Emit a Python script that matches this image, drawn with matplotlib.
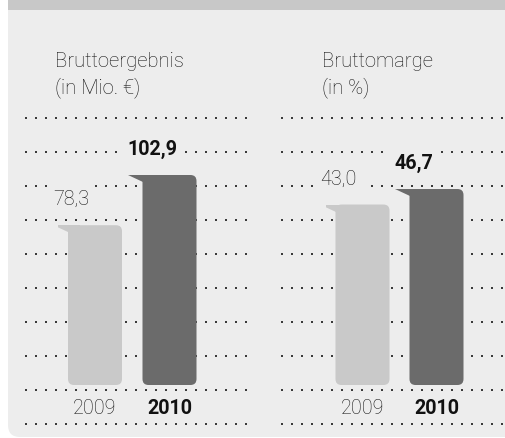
import matplotlib
matplotlib.use("Agg")
import matplotlib.pyplot as plt
from matplotlib.patches import FancyBboxPatch, Polygon, Rectangle

# data
years = ["2009", "2010"]
gross_profit = [78.3, 102.9]      # Mio. EUR
gross_margin = [43.0, 46.7]       # %
titles_left = ["Bruttoergebnis", "(in Mio. €)"]
titles_right = ["Bruttomarge", "(in %)"]

BG = "#ededed"
BAND = "#c8c8c8"
BAR_COLORS = ["#c9c9c9", "#6b6b6b"]
DOT = "#3a3a3a"
TXT = "#151515"
FONT = ["Roboto", "DejaVu Sans"]

W, H = 505, 439
fig = plt.figure(figsize=(W / 100, H / 100), dpi=100)

# background canvas in pixel coordinates (y down)
bg = fig.add_axes([0, 0, 1, 1])
bg.set_xlim(0, W)
bg.set_ylim(H, 0)
bg.axis("off")
bg.add_patch(FancyBboxPatch((8, -40), 540, 478, boxstyle="round,pad=0,rounding_size=12",
                            fc=BG, ec="none"))
bg.add_patch(Rectangle((8, -1), 520, 12, fc=BAND, ec="none"))

# dotted guide rows
rows = [119 + 34 * k for k in range(10)]
for x_start in (26, 282):
    xs = [x_start + 10 * k for k in range(23)]
    for y in rows:
        bg.plot(xs, [y] * len(xs), ls="none", marker="s", ms=1.6, mew=0, color=DOT)

for x, lines in ((55, titles_left), (322, titles_right)):
    for j, line in enumerate(lines):
        bg.text(x, 67 + 26 * j, line, fontsize=14.6, family=FONT, fontweight="light",
                color=TXT, va="baseline")


def bar_panel(rect, ymax, values):
    ax = fig.add_axes(rect)
    ax.set_xlim(-0.5, 1.5)
    ax.set_ylim(0, ymax)
    ax.axis("off")
    px_x = rect[2] * W / 2.0
    px_y = rect[3] * H / ymax
    w = 54 / px_x
    r = 6 / px_x
    tail_w, tail_h = 15 / px_x, 7 / px_y
    for i, v in enumerate(values):
        x0 = i - w / 2
        ax.add_patch(FancyBboxPatch((x0, 0), w, v, boxstyle=f"round,pad=0,rounding_size={r}",
                                    mutation_aspect=px_x / px_y, fc=BAR_COLORS[i], ec="none"))
        ax.add_patch(Polygon([(x0 - tail_w, v), (x0 + 2 * r, v), (x0 + 2 * r, v - tail_h),
                              (x0, v - tail_h)], closed=True, fc=BAR_COLORS[i], ec="none"))
        bold = i == len(values) - 1
        ax.annotate(f"{v:.1f}".replace(".", ","), xy=(x0 - tail_w, v), xytext=(0, 19),
                    textcoords="offset points", ha="left", va="center", fontsize=14.2,
                    family=FONT, fontweight="bold" if bold else "light",
                    color="#111111" if bold else TXT, annotation_clip=False,
                    bbox=dict(boxstyle="square,pad=0.3", fc=BG, ec="none"))
        ax.annotate(years[i], xy=(i, 0), xytext=(0, -16.5), textcoords="offset points",
                    ha="center", va="center", fontsize=14.2, family=FONT,
                    fontweight="bold" if bold else "light",
                    color="#111111" if bold else TXT, annotation_clip=False)
    return ax


bottom = (H - 386) / H
height = 286 / H
bar_panel([57.75 / W, bottom, 149 / W, height], 286 / 2.0408, gross_profit)
bar_panel([325.5 / W, bottom, 148 / W, height], 286 / 4.197, gross_margin)

fig.savefig("out.png", dpi=100, facecolor="white")
